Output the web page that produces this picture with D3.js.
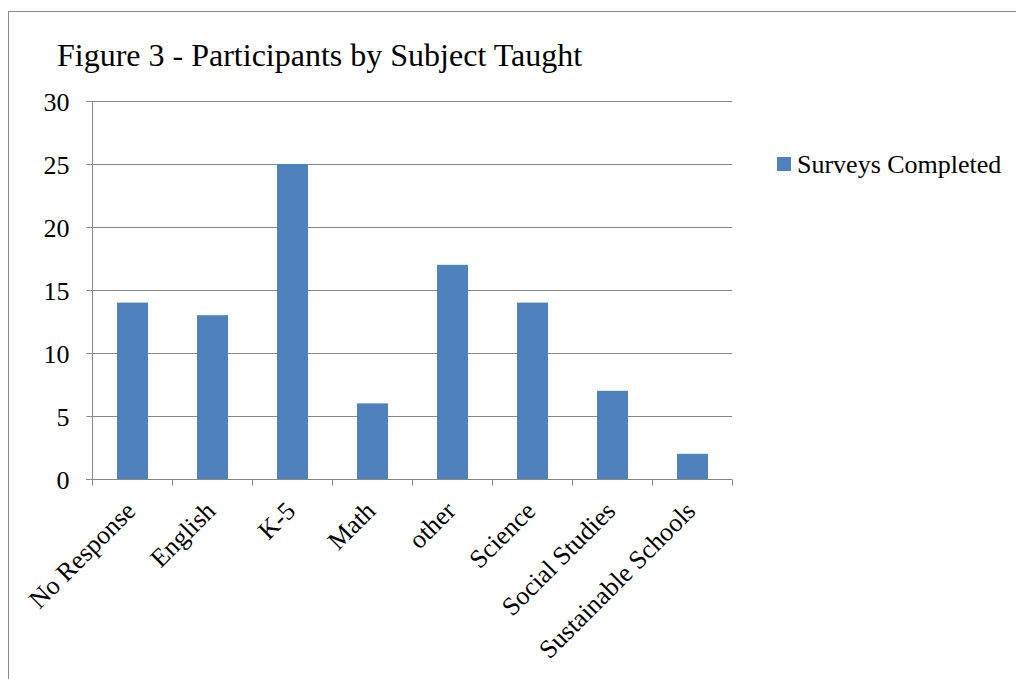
<!DOCTYPE html>
<html><head><meta charset="utf-8">
<script src="https://cdn.jsdelivr.net/npm/d3@7"></script>
<style>body{margin:0;background:#fff}svg{display:block}text{font-family:"Liberation Serif","Times New Roman",serif;fill:#000}</style>
</head><body>
<svg id="c" width="1016" height="679"></svg>
<script>
const categories = ["No Response","English","K-5","Math","other","Science","Social Studies","Sustainable Schools"];
const surveysCompleted = [14,13,25,6,17,14,7,2];
const yTicks = [0,5,10,15,20,25,30];
const seriesName = "Surveys Completed";
const title = "Figure 3 - Participants by Subject Taught";

const svg = d3.select("#c");
svg.append("rect").attr("x",8.5).attr("y",11.5).attr("width",1020).attr("height",700)
  .attr("fill","none").attr("stroke","#888").attr("stroke-width",1);

const pL=92, pR=732, pT=101, pB=479;
const x = d3.scaleBand().domain(categories).range([pL,pR]).paddingInner(0.6).paddingOuter(0.3);
const xt = d3.scaleBand().domain(categories).range([pL,pR]);
const y = d3.scaleLinear().domain([0,30]).range([pB,pT]);

// gridlines
svg.append("g").selectAll("line").data(yTicks.filter(d=>d>0)).join("line")
  .attr("x1",pL).attr("x2",pR).attr("y1",d=>Math.round(y(d))+0.5).attr("y2",d=>Math.round(y(d))+0.5)
  .attr("stroke","#868686").attr("stroke-width",1);

// bars
svg.append("g").selectAll("rect").data(categories).join("rect")
  .attr("x",d=>x(d)+1).attr("width",x.bandwidth()-1)
  .attr("y",(d,i)=>y(surveysCompleted[i])).attr("height",(d,i)=>pB-y(surveysCompleted[i]))
  .attr("fill","#4F81BD");

// y axis
const ya = svg.append("g").attr("transform",`translate(${pL+0.5},0)`)
  .call(d3.axisLeft(y).tickValues(yTicks).tickSize(6).tickPadding(17).tickFormat(d3.format("d")));
ya.select(".domain").attr("stroke","#868686").attr("d",`M-6,${Math.round(pT)+0.5}H0V${pB+0.5}H-6`);
ya.selectAll(".tick line").attr("stroke","#868686");
ya.selectAll(".tick text").attr("font-size",26).attr("dy","0.35em").style("font-family","Liberation Serif");

// x axis
const xa = svg.append("g").attr("transform",`translate(0,${pB+0.5})`);
xa.append("line").attr("x1",pL-6).attr("x2",pR).attr("stroke","#868686");
const edges = categories.map(c=>xt(c)).concat([pR]);
xa.selectAll("line.t").data(edges).join("line").attr("class","t")
  .attr("x1",d=>Math.round(d)+0.5).attr("x2",d=>Math.round(d)+0.5).attr("y1",0).attr("y2",6).attr("stroke","#868686");
xa.selectAll("text").data(categories).join("text")
  .attr("transform",d=>`translate(${xt(d)+xt.bandwidth()/2+5},${33}) rotate(-45)`)
  .attr("text-anchor","end").attr("font-size",26).text(d=>d);

// title
svg.append("text").attr("x",57).attr("y",66).attr("font-size",32).text(title);

// legend
svg.append("rect").attr("x",777).attr("y",157).attr("width",14).attr("height",14).attr("fill","#4F81BD");
svg.append("text").attr("x",797).attr("y",173).attr("font-size",26).text(seriesName);
</script>
</body></html>
